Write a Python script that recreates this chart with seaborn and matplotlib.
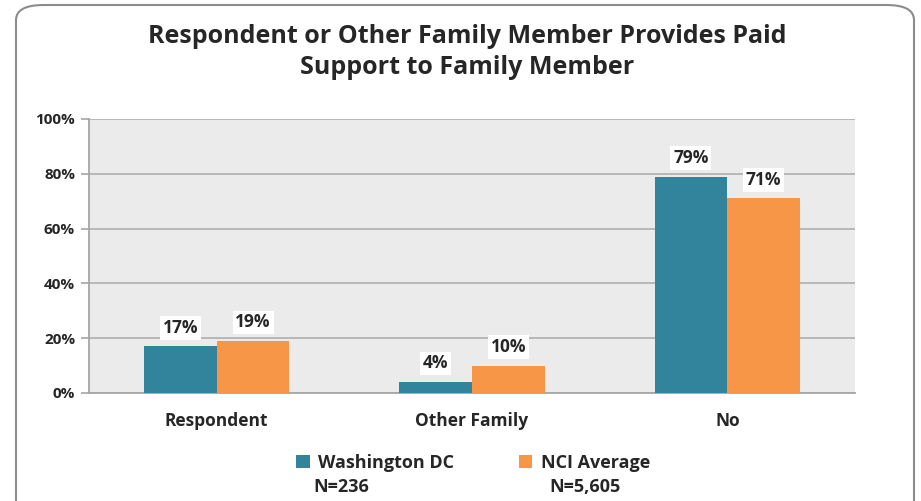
import numpy as np
import pandas as pd
import matplotlib
matplotlib.use("Agg")
import matplotlib.pyplot as plt
from matplotlib.patches import FancyBboxPatch, Patch
import seaborn as sns

categories = ["Respondent", "Other Family", "No"]
dc_values = [17, 4, 79]
nci_values = [19, 10, 71]
series = ["Washington DC", "NCI Average"]
sample_sizes = ["N=236", "N=5,605"]
colors = ["#31849b", "#f79646"]
yticks = [0, 20, 40, 60, 80, 100]

df = pd.DataFrame({
    "category": categories * 2,
    "value": dc_values + nci_values,
    "series": [series[0]] * 3 + [series[1]] * 3,
})

sns.set_style("white")
plt.rcParams["font.family"] = ["Open Sans", "DejaVu Sans"]

fig = plt.figure(figsize=(9.21, 5.01), dpi=100)
ax = fig.add_axes([89 / 921, 1 - 393 / 501, 766 / 921, 274 / 501])

sns.barplot(data=df, x="category", y="value", hue="series", palette=colors,
            width=0.57, saturation=1, ax=ax, legend=False, zorder=3,
            linewidth=0)

ax.set_facecolor("#ebebeb")
ax.set_xlim(-0.5, 2.5)
ax.set_ylim(0, 100)
ax.set_yticks(yticks)
ax.set_yticklabels([f"{t}%" for t in yticks], fontsize=11, fontweight="bold")
ax.tick_params(axis="x", labelsize=12.5, pad=14, length=0)
for lbl in ax.get_xticklabels():
    lbl.set_fontweight("bold")
ax.tick_params(axis="y", length=6, color="#a6a6a6", width=1.2, left=True, pad=4)
ax.set_xlabel("")
ax.set_ylabel("")
ax.grid(axis="y", color="#b3b3b3", linewidth=1.3, zorder=0)
ax.set_axisbelow(True)
for side in ["top", "right"]:
    ax.spines[side].set_visible(False)
ax.spines["left"].set_color("#a6a6a6")
ax.spines["left"].set_linewidth(1.3)
ax.spines["bottom"].set_color("#a6a6a6")
ax.spines["bottom"].set_linewidth(1.3)

for cont in ax.containers:
    for bar in cont:
        h = bar.get_height()
        ax.text(bar.get_x() + bar.get_width() / 2, h + 3.5, f"{h:.0f}%",
                ha="center", va="bottom", fontsize=12.5, fontweight="bold",
                zorder=5,
                bbox=dict(facecolor="white", edgecolor="none", pad=2))

handles = [Patch(facecolor=c, edgecolor="none") for c in colors]
leg = fig.legend(handles, series, loc="center", ncol=2,
                 bbox_to_anchor=(473 / 921, 1 - 463 / 501), frameon=False,
                 prop={"weight": "bold", "size": 13}, handlelength=0.75,
                 handleheight=0.75, columnspacing=3.6, handletextpad=0.45)
for x, n in zip([341, 585], sample_sizes):
    fig.text(x / 921, 1 - 487 / 501, n, ha="center", va="center",
             fontsize=13, fontweight="bold")

fig.text(467 / 921, 1 - 52 / 501,
         "Respondent or Other Family Member Provides Paid\nSupport to Family Member",
         ha="center", va="center", fontsize=18, fontweight="bold",
         linespacing=1.3)

border = FancyBboxPatch((16 / 921, -0.05), 898 / 921, 1.04,
                        boxstyle="round,pad=0,rounding_size=0.03",
                        transform=fig.transFigure, facecolor="none",
                        edgecolor="#8c8c8c", linewidth=1.5)
fig.patches.append(border)

fig.savefig("out.png", dpi=100)
